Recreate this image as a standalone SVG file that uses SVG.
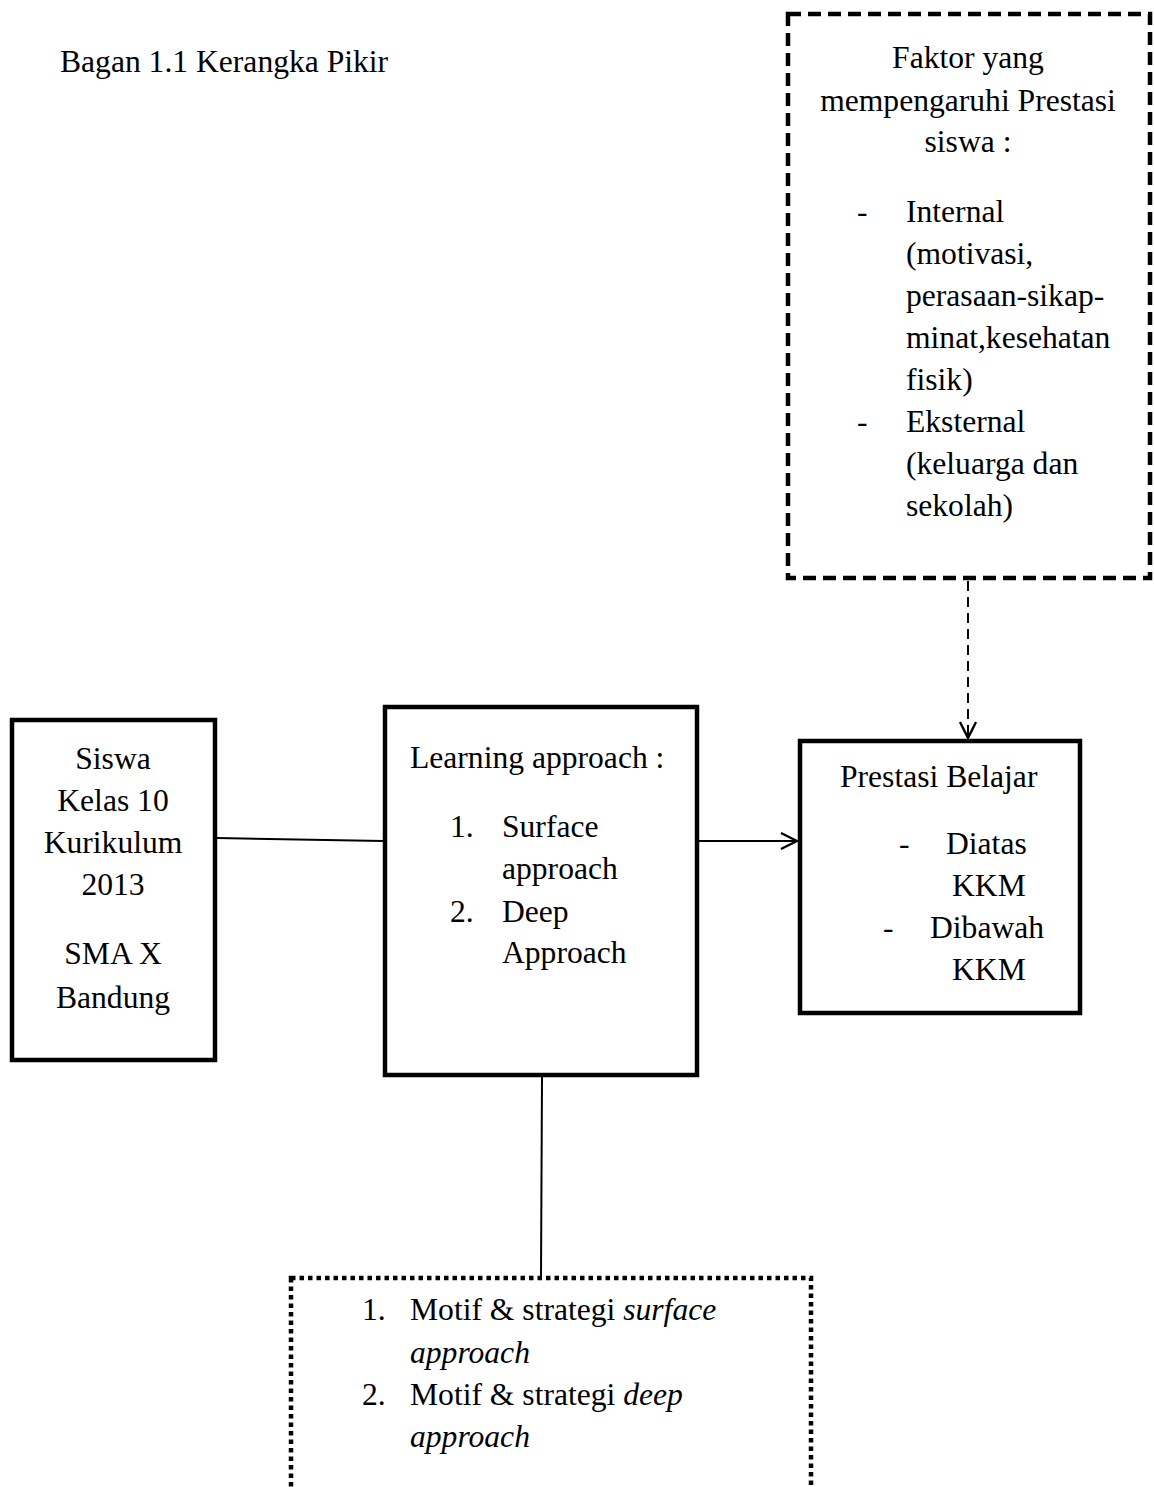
<svg xmlns="http://www.w3.org/2000/svg" width="1154" height="1487" viewBox="0 0 1154 1487">
<style>
text{font-family:"Liberation Serif","Times New Roman",serif;font-size:31.6px;fill:#000}
.box{fill:#fff;stroke:#000;stroke-width:4.5}
.dash{fill:none;stroke:#000;stroke-width:4.5;stroke-dasharray:13 7}
.dot{fill:none;stroke:#000;stroke-width:4.5;stroke-dasharray:4.5 4}
.c{text-anchor:middle}
.conn{fill:none;stroke:#000;stroke-width:2}
.it{font-style:italic}
</style>
<defs>
<marker id="open" viewBox="0 0 20 20" refX="18" refY="10" markerWidth="20" markerHeight="20" markerUnits="userSpaceOnUse" orient="auto">
<path d="M2,2 L18,10 L2,18" fill="none" stroke="#000" stroke-width="2.4"/>
</marker>
</defs>
<rect width="1154" height="1487" fill="#fff"/>
<text x="60" y="72">Bagan 1.1 Kerangka Pikir</text>
<g id="connectors">
<line class="conn" x1="217" y1="838" x2="383" y2="841"/>
<line class="conn" x1="699" y1="841" x2="797" y2="841" marker-end="url(#open)"/>
<line class="conn" x1="968" y1="581" x2="968" y2="738" stroke-dasharray="10 6" stroke-width="2.8" marker-end="url(#open)"/>
<line class="conn" x1="542" y1="1077" x2="541" y2="1276" stroke-width="1.6"/>
</g>
<g id="faktor">
<rect class="dash" x="788" y="14" width="362" height="564"/>
<text class="c" x="968" y="68">Faktor yang</text>
<text class="c" x="968" y="111">mempengaruhi Prestasi</text>
<text class="c" x="968" y="152">siswa :</text>
<text x="857" y="222">-</text><text x="906" y="222">Internal</text>
<text x="906" y="264">(motivasi,</text>
<text x="906" y="306">perasaan-sikap-</text>
<text x="906" y="348">minat,kesehatan</text>
<text x="906" y="390">fisik)</text>
<text x="857" y="432">-</text><text x="906" y="432">Eksternal</text>
<text x="906" y="474">(keluarga dan</text>
<text x="906" y="516">sekolah)</text>
</g>
<g id="siswa">
<rect class="box" x="12" y="720" width="203" height="340"/>
<text class="c" x="113" y="769">Siswa</text>
<text class="c" x="113" y="811">Kelas 10</text>
<text class="c" x="113" y="853">Kurikulum</text>
<text class="c" x="113" y="895">2013</text>
<text class="c" x="113" y="964">SMA X</text>
<text class="c" x="113" y="1008">Bandung</text>
</g>
<g id="learning">
<rect class="box" x="385" y="707" width="312" height="368"/>
<text x="410" y="768">Learning approach :</text>
<text x="450" y="837">1.</text><text x="502" y="837">Surface</text>
<text x="502" y="879">approach</text>
<text x="450" y="922">2.</text><text x="502" y="922">Deep</text>
<text x="502" y="963">Approach</text>
</g>
<g id="prestasi">
<rect class="box" x="800" y="741" width="280" height="272"/>
<text x="840" y="787">Prestasi Belajar</text>
<text x="899" y="854">-</text><text x="946" y="854">Diatas</text>
<text x="952" y="896">KKM</text>
<text x="883" y="938">-</text><text x="930" y="938">Dibawah</text>
<text x="952" y="980">KKM</text>
</g>
<g id="motif">
<rect class="dot" x="291" y="1278" width="520" height="260"/>
<text x="362" y="1320">1.</text><text x="410" y="1320">Motif &amp; strategi <tspan class="it">surface</tspan></text>
<text class="it" x="410" y="1363">approach</text>
<text x="362" y="1405">2.</text><text x="410" y="1405">Motif &amp; strategi <tspan class="it">deep</tspan></text>
<text class="it" x="410" y="1447">approach</text>
</g>
</svg>
